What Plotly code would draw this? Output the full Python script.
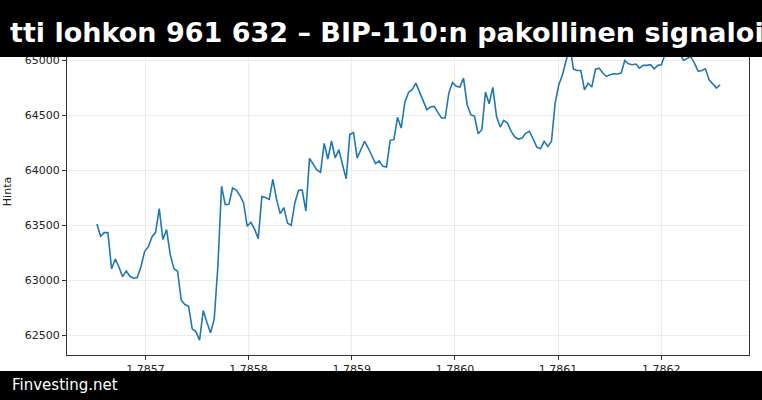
import plotly.graph_objects as go

price = [63512,63400,63433,63433,63103,63194,63121,63033,63085,63036,63018,63024,63121,63261,63303,63394,63436,63652,63370,63461,
63233,63106,63082,62818,62779,62764,62558,62533,62455,62724,62618,62521,62648,63127,63855,63688,63691,63839,63821,63773,
63703,63491,63527,63467,63379,63761,63752,63736,63918,63736,63606,63661,63518,63500,63706,63818,63821,63630,64109,64051,
64003,63982,64245,64103,64267,64112,64188,64051,63924,64327,64342,64112,64188,64264,64203,64127,64061,64085,64036,64030,
64273,64279,64482,64385,64618,64709,64733,64794,64718,64642,64552,64576,64582,64527,64476,64476,64703,64800,64764,64758,
64839,64597,64506,64491,64333,64370,64712,64606,64755,64491,64394,64455,64430,64355,64303,64285,64294,64339,64355,64285,
64212,64197,64264,64218,64264,64612,64779,64870,65006,65127,64921,64909,64909,64733,64794,64758,64921,64930,64885,64855,
64870,64879,64876,64885,65000,64970,64961,64967,64930,64955,64955,64961,64924,64955,64961,65067,65160,65160,65115,65067,
65000,65021,65036,64976,64900,64909,64924,64824,64788,64748,64779]
x_start, x_end = 1.785653, 1.786257
n = len(price)
x = [x_start + i*(x_end-x_start)/(n-1) for i in range(n)]

title_visible = "tti lohkon 961 632 – BIP-110:n pakollinen signalointi"
source = "Finvesting.net"
y_label = "Hinta"

W, H = 682, 327  # plot area px
fig = go.Figure(go.Scatter(x=x, y=price, mode="lines", line=dict(color="#1f77b4", width=1.6)))
fig.update_layout(
    width=762, height=400, margin=dict(l=67, r=13, t=28, b=45, autoexpand=False),
    paper_bgcolor="white", plot_bgcolor="white", showlegend=False,
    font=dict(family="DejaVu Sans", size=11, color="#222"),
)
fig.update_xaxes(range=[1.785624, 1.786285], dtick=0.0001, tick0=1.7857, tickformat=".4f", automargin=False,
                 showgrid=True, gridcolor="#ebebeb", ticks="outside", ticklen=4, tickcolor="#333",
                 showline=True, linecolor="#333", mirror=True, zeroline=False)
fig.update_yaxes(range=[62320, 65295], dtick=500, tickformat="d", automargin=False,
                 showgrid=True, gridcolor="#ebebeb", ticks="outside", ticklen=4, tickcolor="#333",
                 showline=True, linecolor="#333", mirror=True, zeroline=False,
                 title=dict(text=y_label, standoff=10, font=dict(size=11)))
def px_x(p): return (p-67)/W
def px_y(p): return (355-p)/H
fig.add_shape(type="rect", xref="paper", yref="paper", x0=px_x(0), x1=px_x(762), y0=px_y(57), y1=px_y(0),
              fillcolor="black", line_width=0, layer="above")
fig.add_shape(type="rect", xref="paper", yref="paper", x0=px_x(0), x1=px_x(762), y0=px_y(400), y1=px_y(371),
              fillcolor="black", line_width=0, layer="above")
fig.add_annotation(xref="paper", yref="paper", x=px_x(8), y=px_y(33), xanchor="left", yanchor="middle",
                   text="<b>"+title_visible+"</b>", showarrow=False,
                   font=dict(family="DejaVu Sans", size=27, color="white"))
fig.add_annotation(xref="paper", yref="paper", x=px_x(10), y=px_y(385), xanchor="left", yanchor="middle",
                   text=source, showarrow=False, font=dict(family="DejaVu Sans", size=15, color="white"))
fig.write_html("out.html", config={"displayModeBar": False},
               post_script="document.body.style.margin='0';document.body.style.overflow='hidden';")
